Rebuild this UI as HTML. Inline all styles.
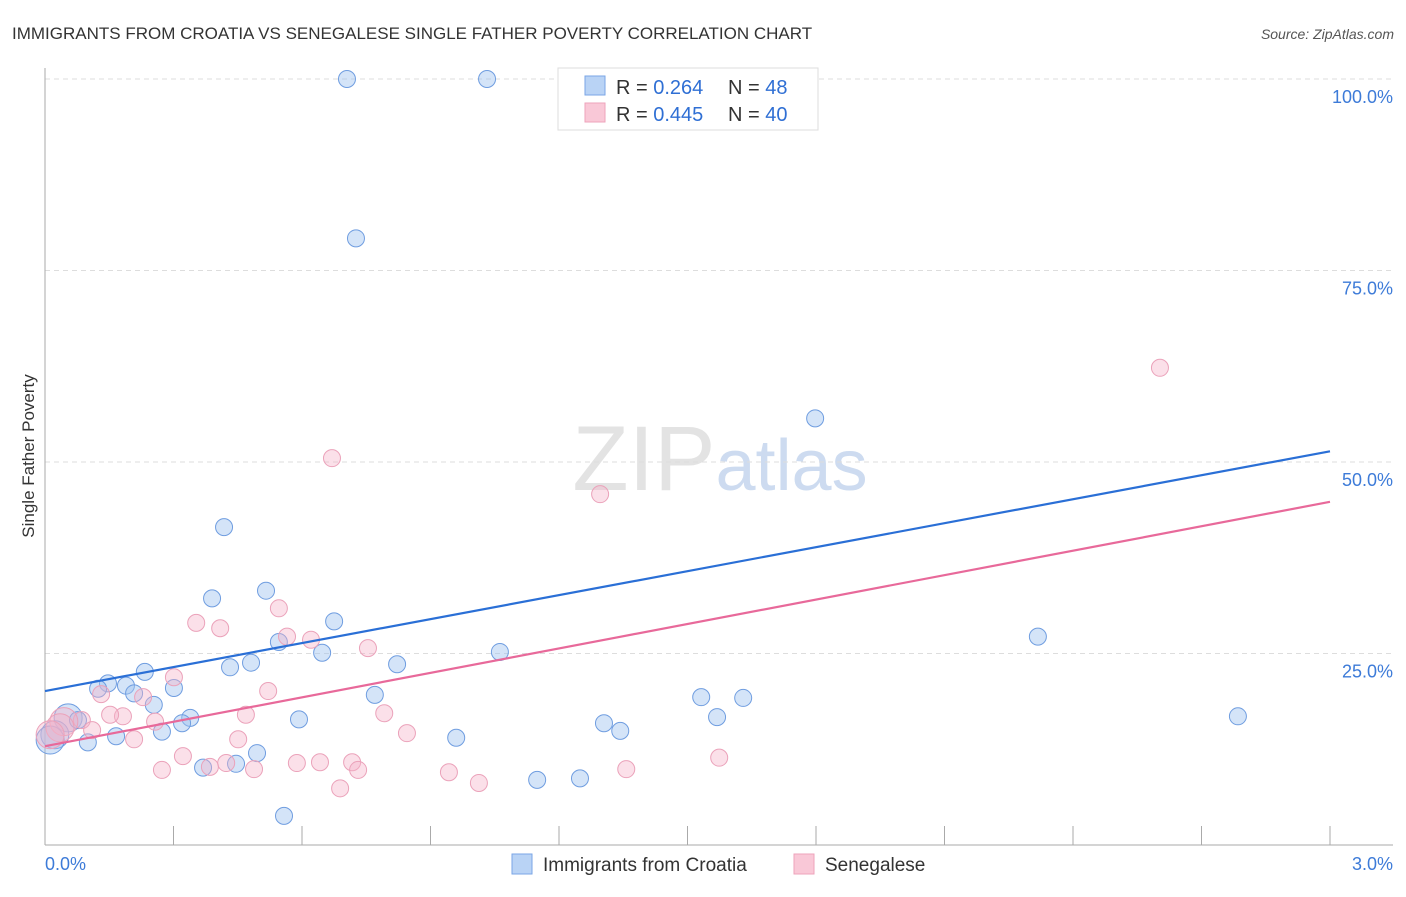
<!DOCTYPE html>
<html><head><meta charset="utf-8"><style>
body{margin:0;background:#fff;font-family:"Liberation Sans",sans-serif;}
svg text{font-family:"Liberation Sans",sans-serif;}
</style></head><body>
<svg id="chart" width="1406" height="892" xmlns="http://www.w3.org/2000/svg">
<text x="12" y="39" font-size="17" fill="#333">IMMIGRANTS FROM CROATIA VS SENEGALESE SINGLE FATHER POVERTY CORRELATION CHART</text>
<text x="1394" y="39" font-size="14" fill="#555" text-anchor="end" font-style="italic">Source: ZipAtlas.com</text>
<text transform="translate(34,456) rotate(-90)" font-size="17" fill="#333" text-anchor="middle">Single Father Poverty</text>
<text x="720" y="490" font-size="92" text-anchor="middle" fill="#d8d8d8" font-family="Liberation Serif" opacity="0.7">ZIP<tspan fill="#b8cdea" font-family="Liberation Sans" font-size="72">atlas</tspan></text>
<g id="grid"></g><g id="axes"></g><g id="marks"></g>
<g>
<rect x="558" y="68" width="260" height="62" fill="#fff" stroke="#ddd"/>
<rect x="585" y="76" width="20" height="19" fill="#b9d3f5" stroke="#7aa6e6"/>
<rect x="585" y="103" width="20" height="19" fill="#f9c8d7" stroke="#eea3bb"/>
<text x="616" y="94" font-size="20" fill="#333">R = <tspan fill="#2f6fd4">0.264</tspan><tspan x="728">N = </tspan><tspan fill="#2f6fd4">48</tspan></text>
<text x="616" y="121" font-size="20" fill="#333">R = <tspan fill="#2f6fd4">0.445</tspan><tspan x="728">N = </tspan><tspan fill="#2f6fd4">40</tspan></text>
</g>
<g>
<rect x="512" y="854" width="20" height="20" fill="#b9d3f5" stroke="#7aa6e6"/>
<text x="543" y="871" font-size="19" fill="#333">Immigrants from Croatia</text>
<rect x="794" y="854" width="20" height="20" fill="#f9c8d7" stroke="#eea3bb"/>
<text x="825" y="871" font-size="19" fill="#333">Senegalese</text>
</g>
</svg>
<script>
const blueX=[0.705,1.032,1.380,1.767,0.726,1.798,0.418,0.390,0.516,0.675,0.546,0.647,0.432,0.481,0.822,1.062,2.318,0.233,0.147,0.124,0.189,0.208,0.301,0.254,0.770,1.532,1.630,1.569,2.785,0.339,0.320,0.593,0.273,1.305,1.343,0.166,0.100,0.960,0.495,0.446,0.369,1.149,1.249,0.558,0.054,0.077,0.023,0.012];
const blueY=[100,100,100,100,79.2,55.7,41.5,32.2,33.2,29.2,26.5,25.1,23.2,23.8,23.6,25.2,27.2,22.6,21.1,20.4,20.8,19.8,20.5,18.3,19.6,19.3,19.2,16.7,16.8,16.6,15.9,16.4,14.8,15.9,14.9,14.2,13.4,14.0,12.0,10.6,10.1,8.5,8.7,3.8,16.6,16.3,14.4,13.7];
const pinkX=[2.603,0.670,1.296,0.546,0.353,0.409,0.565,0.621,0.754,0.301,0.229,0.131,0.521,0.469,0.182,0.152,0.257,0.792,0.086,0.044,0.845,0.208,0.451,0.322,1.574,0.423,0.385,0.588,0.642,0.717,0.731,0.488,0.273,1.357,0.943,1.013,0.689,0.035,0.012,0.110];
const pinkY=[62.3,50.5,45.8,30.9,29.0,28.3,27.2,26.8,25.7,21.9,19.3,19.7,20.1,17.0,16.8,17.0,16.1,17.2,16.3,16.1,14.6,13.8,13.8,11.6,11.4,10.7,10.2,10.7,10.8,10.8,9.8,9.9,9.8,9.9,9.5,8.1,7.4,15.3,14.4,15.0];
const blueLine=[20.1,51.4];
const pinkLine=[12.9,44.8];
const yTicks=[25,50,75,100];
const yTickLabels=["25.0%","50.0%","75.0%","100.0%"];
const xTicks=[0,0.3,0.6,0.9,1.2,1.5,1.8,2.1,2.4,2.7,3.0];
const xTickLabels=["0.0%","3.0%"];
const NS="http://www.w3.org/2000/svg";
const sx=v=>45+v/3*1285, sy=v=>845-v*7.66;
function mk(tag,attrs,parent){const e=document.createElementNS(NS,tag);for(const k in attrs)e.setAttribute(k,attrs[k]);document.getElementById(parent).appendChild(e);return e;}
yTicks.forEach((t,i)=>{
 const g=mk('line',{x1:45,x2:1393,y1:sy(t),y2:sy(t),stroke:'#ddd','stroke-dasharray':'5,4'},'grid');
 
 
 const l=mk('text',{x:1393,y:sy(t)+24,'font-size':18,fill:'#3d7bd8','text-anchor':'end'},'axes');
 l.textContent=yTickLabels[i];
 
 
});
const ya=mk('line',{x1:45,x2:45,y1:68,y2:845,stroke:'#aaa'},'axes');


const xa=mk('line',{x1:45,x2:1393,y1:845,y2:845,stroke:'#aaa'},'axes');


xTicks.forEach(t=>{
 const k=mk('line',{x1:sx(t),x2:sx(t),y1:826,y2:845,stroke:'#aaa'},'axes');
 
 
});
const xl0=mk('text',{x:45,y:870,'font-size':18,fill:'#3d7bd8'},'axes');
xl0.textContent=xTickLabels[0];


const xl1=mk('text',{x:1393,y:870,'font-size':18,fill:'#3d7bd8','text-anchor':'end'},'axes');
xl1.textContent=xTickLabels[1];


function pts(X,Y,fill,stroke,name){X.forEach((x,i)=>{
 const r=(x<0.06)?14:8.5;
 const c=mk('circle',{cx:sx(x),cy:sy(Y[i]),r:r,fill:fill,stroke:stroke,'stroke-width':1},'marks');
 
 
});}
pts(blueX,blueY,'rgba(160,195,240,0.45)','#6f9de0','point-croatia');
pts(pinkX,pinkY,'rgba(246,178,200,0.4)','#eba2ba','point-senegalese');
const bl=mk('line',{x1:sx(0),y1:sy(blueLine[0]),x2:sx(3),y2:sy(blueLine[1]),stroke:'#2a6fd6','stroke-width':2.2},'marks');


const pl=mk('line',{x1:sx(0),y1:sy(pinkLine[0]),x2:sx(3),y2:sy(pinkLine[1]),stroke:'#e8699a','stroke-width':2.2},'marks');


</script>
</body></html>
